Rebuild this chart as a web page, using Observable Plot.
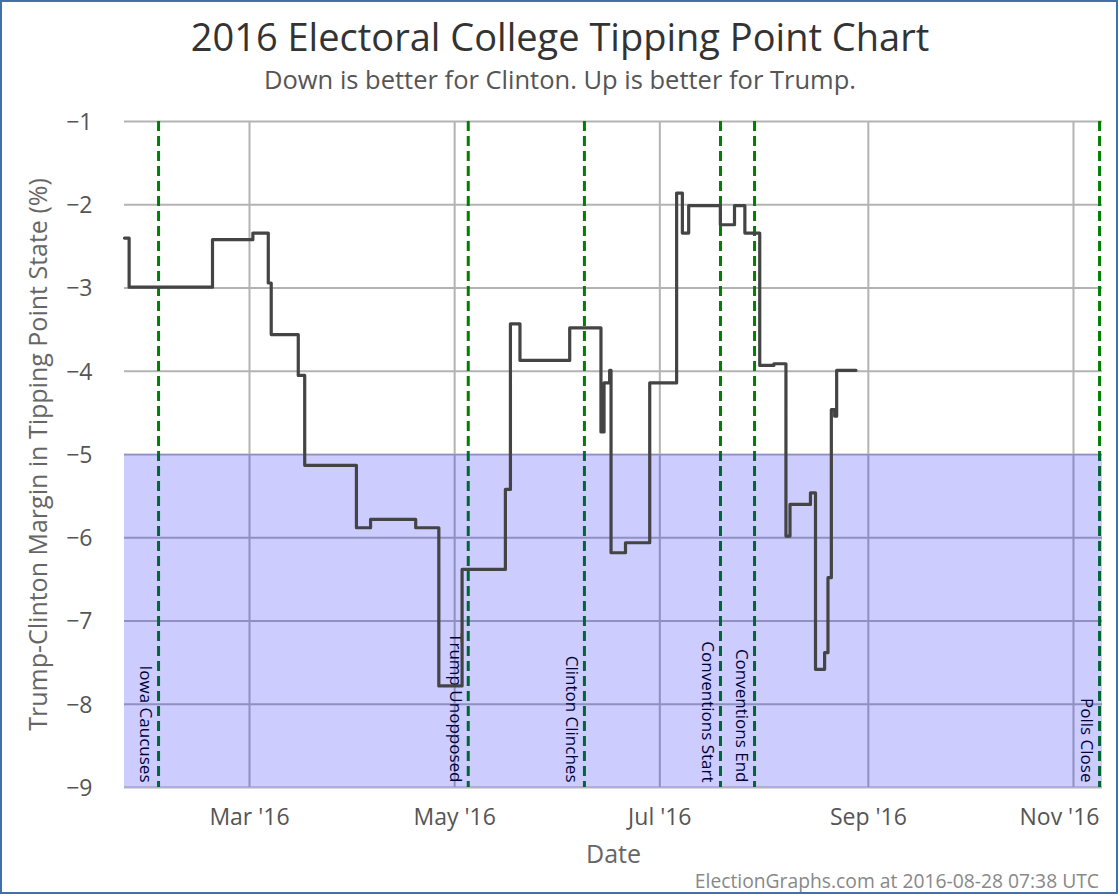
<!DOCTYPE html>
<html>
<head>
<meta charset="utf-8">
<script src="https://cdn.jsdelivr.net/npm/d3@7"></script>
<script src="https://cdn.jsdelivr.net/npm/@observablehq/plot@0.6"></script>
<style>
  body { margin: 0; background: #fff; font-family: "Open Sans", sans-serif; }
  #wrap { position: relative; width: 1120px; height: 896px; overflow: hidden; background: #fff; }
  .t { position: absolute; white-space: nowrap; line-height: 1; }
  #title { top: 17px; left: 0; width: 1120px; text-align: center; font-size: 38px; color: #333; }
  #subtitle { top: 67px; left: 0; width: 1120px; text-align: center; font-size: 25.5px; color: #555; }
  #caption { top: 871px; right: 21px; font-size: 19.3px; color: #888; }
  #chart { position: absolute; left: 0; top: 100px; }
  #frame { position: absolute; left: 0; top: 0; width: 1118px; height: 894px; box-sizing: border-box;
           border: 2px solid #4170ad; pointer-events: none; }
</style>
</head>
<body>
<div id="wrap">
  <div id="chart"></div>
  <div class="t" id="title">2016 Electoral College Tipping Point Chart</div>
  <div class="t" id="subtitle">Down is better for Clinton. Up is better for Trump.</div>
  <div class="t" id="caption">ElectionGraphs.com at 2016-08-28 07:38 UTC</div>
  <div id="frame"></div>
</div>
<script>
// Tipping point margin (Trump - Clinton, %), each value holds from its date until the next
const stepDates = [
  "2016-01-23T20:00", "2016-01-25T05:00", "2016-02-19T00:00", "2016-03-02T00:00",
  "2016-03-06T14:00", "2016-03-07T11:00", "2016-03-15T12:00", "2016-03-17T10:00",
  "2016-04-01T19:00", "2016-04-06T00:00", "2016-04-19T10:00", "2016-04-26T07:00",
  "2016-05-03T05:00", "2016-05-16T02:00", "2016-05-17T14:00", "2016-05-20T10:00",
  "2016-06-04T05:00", "2016-06-13T12:00", "2016-06-14T10:00", "2016-06-16T02:00",
  "2016-06-16T12:00", "2016-06-20T19:00", "2016-06-28T00:00", "2016-07-06T00:00",
  "2016-07-07T17:00", "2016-07-09T14:00", "2016-07-19T00:00", "2016-07-23T05:00",
  "2016-07-26T07:00", "2016-07-30T17:00", "2016-08-03T22:00", "2016-08-07T12:00",
  "2016-08-08T17:00", "2016-08-14T19:00", "2016-08-16T07:00", "2016-08-19T00:00",
  "2016-08-20T00:00", "2016-08-21T00:00", "2016-08-22T00:00", "2016-08-22T14:00",
  "2016-08-28T07:38"
];
const stepValues = [
  -2.40, -2.99, -2.42, -2.34,
  -2.94, -3.56, -4.05, -5.13,
  -5.88, -5.78, -5.88, -7.78,
  -6.38, -5.42, -3.43, -3.87,
  -3.48, -4.73, -4.14, -3.99,
  -6.18, -6.06, -4.14, -1.86,
  -2.34, -2.01, -2.24, -2.01,
  -2.34, -3.93, -3.91, -5.98,
  -5.60, -5.46, -7.58, -7.38,
  -6.48, -4.46, -4.54, -3.99,
  -3.99
];

// Event markers
const eventNames = ["Iowa Caucuses", "Trump Unopposed", "Clinton Clinches", "Conventions Start", "Conventions End", "Polls Close"];
const eventDates = ["2016-02-02T23:00", "2016-05-05T01:00", "2016-06-08T14:00", "2016-07-19T01:00", "2016-07-29T04:00", "2016-11-08T18:00"];

// Axes
const xTickDates = ["2016-03-01", "2016-05-01", "2016-07-01", "2016-09-01", "2016-11-01"];
const xTickLabels = ["Mar '16", "May '16", "Jul '16", "Sep '16", "Nov '16"];
const yTicks = [-1, -2, -3, -4, -5, -6, -7, -8, -9];
const xDomain = ["2016-01-23T20:00", "2016-11-09T15:00"];
const yDomain = [-9, -1];
const clintonBand = [-9, -5];

const utc = s => new Date(s.length === 10 ? s + "T00:00Z" : s + "Z");

const series = stepDates.map((d, i) => ({date: utc(d), value: stepValues[i]}));
const events = eventDates.map((d, i) => ({date: utc(d), name: eventNames[i]}));
const xTicks = xTickDates.map((d, i) => ({date: utc(d), label: xTickLabels[i]}));
const fmtY = d3.format("d");

const chart = Plot.plot({
  width: 1120,
  height: 770,
  marginTop: 21,
  marginBottom: 83,
  marginLeft: 124,
  marginRight: 18,
  style: {background: "transparent", fontFamily: "Open Sans, sans-serif", overflow: "visible"},
  x: {type: "utc", domain: xDomain.map(utc), axis: null},
  y: {domain: yDomain, axis: null},
  marks: [
    Plot.ruleY(yTicks, {stroke: "#b3b3b3", strokeWidth: 2}),
    Plot.ruleX(xTicks, {x: "date", stroke: "#b3b3b3", strokeWidth: 2}),
    Plot.ruleX(events, {x: "date", stroke: "#008000", strokeWidth: 3, strokeDasharray: "10,5"}),
    Plot.text(events, {x: "date", y: () => yDomain[0], text: "name", rotate: 90, textAnchor: "end",
                       lineAnchor: "middle", dx: -13, dy: -5, fill: "#000", fontSize: 17}),
    Plot.rect([clintonBand], {x1: () => utc(xDomain[0]), x2: () => utc(xDomain[1]),
                              y1: d => d[0], y2: d => d[1], fill: "#0000ff", fillOpacity: 0.2}),
    Plot.line(series, {x: "date", y: "value", curve: "step-after", stroke: "#444", strokeWidth: 3.2}),
    // x tick labels
    Plot.text(xTicks.slice(0, -1), {x: "date", text: "label", frameAnchor: "bottom", lineAnchor: "middle",
                       dy: 30, fill: "#555", fontSize: 23}),
    Plot.text(xTicks.slice(-1), {x: "date", text: "label", frameAnchor: "bottom", lineAnchor: "middle",
                       dy: 30, dx: -14, fill: "#555", fontSize: 23}),
    // y tick labels
    Plot.text(yTicks, {y: d => d, text: d => fmtY(d), frameAnchor: "left", textAnchor: "end", lineAnchor: "middle",
                       dx: -32, dy: 1, fill: "#555", fontSize: 23}),
    // axis titles
    Plot.text(["Date"], {frameAnchor: "bottom", lineAnchor: "middle", textAnchor: "middle", dy: 67,
                       text: d => d, fill: "#666", fontSize: 25}),
    Plot.text(["Trump-Clinton Margin in Tipping Point State (%)"], {frameAnchor: "left", rotate: -90, dx: -86,
                       textAnchor: "middle", lineAnchor: "middle", text: d => d, fill: "#666", fontSize: 25})
  ]
});
document.getElementById("chart").appendChild(chart);
</script>
</body>
</html>
